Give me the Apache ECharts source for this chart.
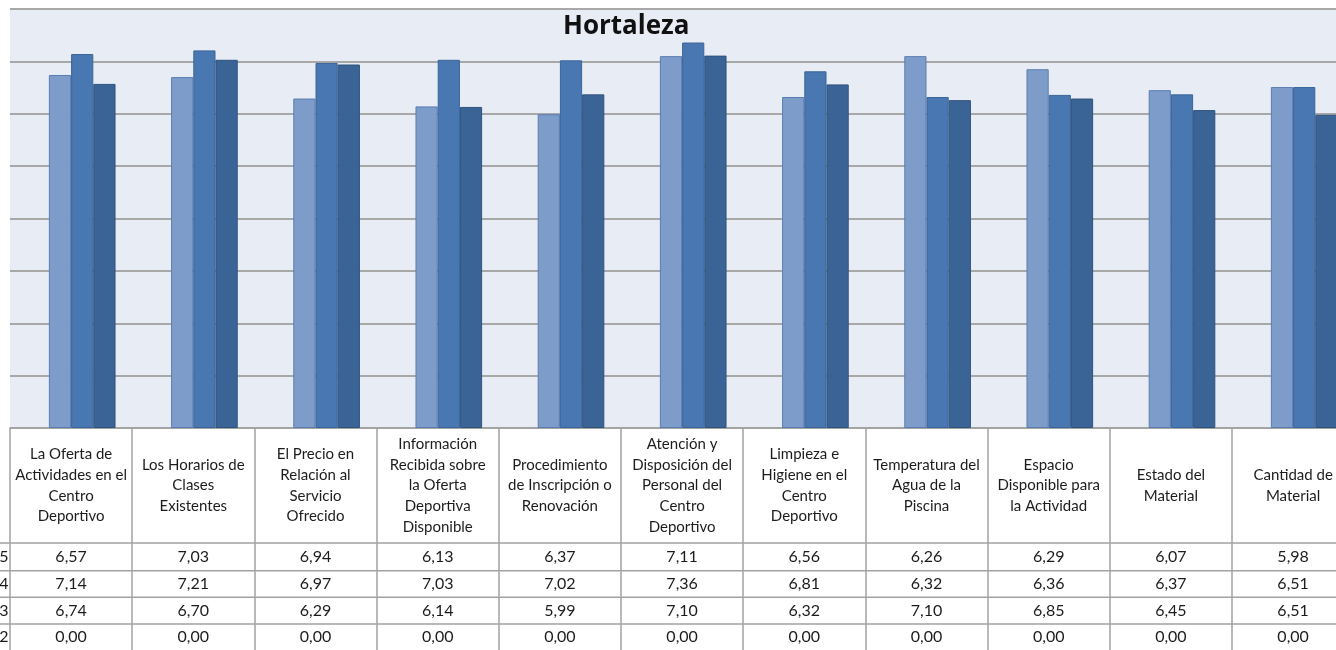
<!DOCTYPE html>
<html>
<head>
<meta charset="utf-8">
<title>Hortaleza</title>
<script src="https://cdn.jsdelivr.net/npm/echarts@6/dist/echarts.min.js"></script>
<style>
  html, body { margin: 0; padding: 0; background: #ffffff; }
  #chart { width: 1336px; height: 650px; }
</style>
</head>
<body>
<div id="chart"></div>
<script>
// Satisfaction scores per aspect of the sports centre, by survey year
const categories = [
  'La Oferta de\nActividades en el\nCentro\nDeportivo',
  'Los Horarios de\nClases\nExistentes',
  'El Precio en\nRelación al\nServicio\nOfrecido',
  'Información\nRecibida sobre\nla Oferta\nDeportiva\nDisponible',
  'Procedimiento\nde Inscripción o\nRenovación',
  'Atención y\nDisposición del\nPersonal del\nCentro\nDeportivo',
  'Limpieza e\nHigiene en el\nCentro\nDeportivo',
  'Temperatura del\nAgua de la\nPiscina',
  'Espacio\nDisponible para\nla Actividad',
  'Estado del\nMaterial',
  'Cantidad de\nMaterial'
];
const years = ['2012', '2013', '2014', '2015'];
const values2012 = [0.00, 0.00, 0.00, 0.00, 0.00, 0.00, 0.00, 0.00, 0.00, 0.00, 0.00];
const values2013 = [6.74, 6.70, 6.29, 6.14, 5.99, 7.10, 6.32, 7.10, 6.85, 6.45, 6.51];
const values2014 = [7.14, 7.21, 6.97, 7.03, 7.02, 7.36, 6.81, 6.32, 6.36, 6.37, 6.51];
const values2015 = [6.57, 7.03, 6.94, 6.13, 6.37, 7.11, 6.56, 6.26, 6.29, 6.07, 5.98];
const yTicks = { min: 0, max: 8, interval: 1 };

// Layout of the plot and the data table underneath
const plotLeft = 10, plotTop = 9, plotBottom = 428;
const bandWidth = 122.2;
const headerBottom = 543;
const rowLines = [543, 570.7, 597.3, 624, 650.5];
const tableLine = '#a2a2a2';
const textColor = '#1c1c1c';
const tableFont = 'Lato';

const seriesValues = [values2012, values2013, values2014, values2015];
const seriesStyles = [
  { color: '#9bb5dc', borderColor: '#9bb5dc', borderWidth: 0 },
  { color: '#7e9cca', borderColor: '#5a7db2', borderWidth: 1 },
  { color: '#4977b2', borderColor: '#3a6499', borderWidth: 1 },
  { color: '#3b6496', borderColor: '#2f527d', borderWidth: 1 }
];

const fmt = v => v.toFixed(2).replace('.', ',');

// Table rows are listed newest year first
const tableOrder = [3, 2, 1, 0];

const xAxes = [{
  type: 'category',
  data: categories,
  boundaryGap: true,
  axisLine: { show: true, lineStyle: { color: tableLine, width: 1.5 } },
  axisTick: { show: true, interval: 0, length: 650 - plotBottom, lineStyle: { color: tableLine, width: 1.5 } },
  axisLabel: {
    interval: 0,
    margin: (headerBottom - plotBottom) / 2,
    verticalAlign: 'middle',
    align: 'center',
    fontFamily: tableFont,
    fontSize: 15,
    lineHeight: 20.7,
    color: textColor,
    hideOverlap: false
  },
  splitLine: { show: false }
}];

// One extra category axis per table row carries the formatted values
tableOrder.forEach((si, r) => {
  const center = (rowLines[r] + rowLines[r + 1]) / 2;
  xAxes.push({
    type: 'category',
    data: seriesValues[si].map(fmt),
    position: 'bottom',
    offset: center - plotBottom,
    boundaryGap: true,
    axisLine: { show: false },
    axisTick: { show: false },
    splitLine: { show: false },
    axisLabel: {
      interval: 0,
      margin: 0,
      verticalAlign: 'middle',
      align: 'center',
      fontFamily: tableFont,
      fontSize: 16,
      color: textColor,
      hideOverlap: false
    }
  });
});

const graphics = [];
rowLines.slice(0, 4).forEach((y, r) => {
  graphics.push({
    type: 'line',
    silent: true,
    shape: { x1: 0, y1: y, x2: 1336, y2: y },
    style: { stroke: tableLine, lineWidth: 1.5 }
  });
  graphics.push({
    type: 'text',
    silent: true,
    x: 8.5,
    y: (y + rowLines[r + 1]) / 2,
    style: {
      text: years[tableOrder[r]],
      align: 'right',
      verticalAlign: 'middle',
      font: '16px ' + tableFont,
      fill: textColor
    }
  });
});

const chart = echarts.init(document.getElementById('chart'), null, { renderer: 'canvas' });
chart.setOption({
  animation: false,
  backgroundColor: '#ffffff',
  title: {
    text: 'Hortaleza',
    left: 558,
    top: 9,
    textStyle: { fontFamily: 'Open Sans', fontWeight: 'bold', fontSize: 26, color: '#111111' }
  },
  grid: {
    left: plotLeft,
    top: plotTop,
    width: bandWidth * categories.length,
    height: plotBottom - plotTop,
    show: true,
    backgroundColor: '#e8ecf5',
    borderWidth: 0,
    containLabel: false,
    outerBoundsMode: 'none'
  },
  xAxis: xAxes,
  yAxis: {
    type: 'value',
    min: yTicks.min,
    max: yTicks.max,
    interval: yTicks.interval,
    axisLabel: { show: false },
    axisLine: { show: false },
    axisTick: { show: false },
    splitLine: { show: true, lineStyle: { color: '#a8a8a8', width: 2 } }
  },
  series: seriesValues.map((vals, i) => ({
    name: years[i],
    type: 'bar',
    xAxisIndex: 0,
    data: vals,
    barGap: '0%',
    barCategoryGap: '27.3%',
    itemStyle: seriesStyles[i]
  })),
  graphic: graphics
});
</script>
</body>
</html>
